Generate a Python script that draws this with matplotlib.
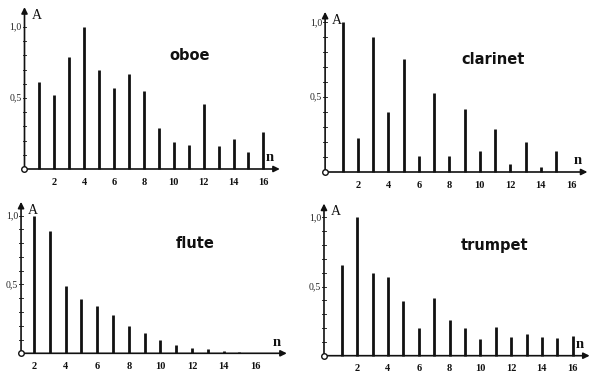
import matplotlib.pyplot as plt

W, H = 602, 377

# ---- data ----
oboe_n = list(range(1, 17))
oboe_a = [0.61, 0.52, 0.79, 1.0, 0.70, 0.57, 0.67, 0.55, 0.29, 0.19, 0.17, 0.46, 0.16, 0.21, 0.12, 0.26]
clar_n = list(range(1, 16))
clar_a = [1.0, 0.23, 0.90, 0.40, 0.755, 0.105, 0.53, 0.105, 0.42, 0.14, 0.29, 0.056, 0.20, 0.033, 0.14]
flute_n = list(range(2, 17))
flute_a = [1.0, 0.89, 0.49, 0.395, 0.34, 0.28, 0.20, 0.15, 0.094, 0.058, 0.036, 0.03, 0.02, 0.008, 0.004]
trump_n = list(range(1, 17))
trump_a = [0.655, 1.0, 0.595, 0.57, 0.395, 0.20, 0.417, 0.26, 0.20, 0.12, 0.21, 0.135, 0.16, 0.135, 0.125, 0.14]

x_ticks = [2, 4, 6, 8, 10, 12, 14, 16]
y_ticks = [0.5, 1.0]
y_tick_labels = ['0,5', '1,0']
titles = ['oboe', 'clarinet', 'flute', 'trumpet']

# panel geometry (pixels): origin x of n=0, baseline y, px per n, px per A,
# n position of y axis, arrow ends, title position (data)
panels = [
    dict(x0=24.5, y0=169.0, sx=14.93, sy=142.0, yax=0.0, xend=17.1, yend=1.14, tpos=(11.05, 0.80)),
    dict(x0=327.4, y0=172.0, sx=15.24, sy=149.7, yax=-0.15, xend=17.06, yend=1.07, tpos=(10.9, 0.75)),
    dict(x0=2.4, y0=353.3, sx=15.8, sy=137.7, yax=1.18, xend=18.0, yend=1.10, tpos=(12.2, 0.80)),
    dict(x0=326.3, y0=355.7, sx=15.4, sy=138.3, yax=-0.15, xend=17.1, yend=1.10, tpos=(10.9, 0.80)),
]
series = [(oboe_n, oboe_a), (clar_n, clar_a), (flute_n, flute_a), (trump_n, trump_a)]

fig = plt.figure(figsize=(W / 100, H / 100), dpi=100)
fig.patch.set_facecolor('white')

serif = 'Liberation Serif'
xmin, xmax, ymin, ymax = -2.0, 19.0, -0.2, 1.25

for p, (ns, amps), title in zip(panels, series, titles):
    left = (p['x0'] + xmin * p['sx']) / W
    bottom = (H - p['y0'] + ymin * p['sy']) / H
    width = (xmax - xmin) * p['sx'] / W
    height = (ymax - ymin) * p['sy'] / H
    ax = fig.add_axes([left, bottom, width, height])
    ax.set_xlim(xmin, xmax)
    ax.set_ylim(ymin, ymax)
    ax.axis('off')
    ax.patch.set_visible(False)

    # bars
    ax.vlines(ns, 0, amps, colors='#111111', linewidth=2.0)

    yax = p['yax']
    # axes arrows
    ax.annotate('', xy=(p['xend'], 0), xytext=(yax, 0),
                arrowprops=dict(arrowstyle='-|>', mutation_scale=9, lw=1.2, color='#111111',
                                shrinkA=0, shrinkB=0))
    ax.annotate('', xy=(yax, p['yend']), xytext=(yax, 0),
                arrowprops=dict(arrowstyle='-|>', mutation_scale=9, lw=1.2, color='#111111',
                                shrinkA=0, shrinkB=0))
    # origin circle
    ax.plot([yax], [0], marker='o', markersize=4, markerfacecolor='white',
            markeredgecolor='#111111', markeredgewidth=1.0, zorder=5)

    # small ticks on y axis every 0.1
    for k in range(1, 11):
        ax.plot([yax - 0.12, yax + 0.12], [k / 10, k / 10], color='#333333', lw=0.7)

    # tick labels
    for t in x_ticks:
        ax.annotate(str(t), xy=(t, 0), xytext=(0, -9.5), textcoords='offset points',
                    ha='center', va='center', fontsize=7.5, fontweight='bold', family=serif,
                    color='#111111')
    for v, lab in zip(y_ticks, y_tick_labels):
        ax.annotate(lab, xy=(yax, v), xytext=(-2, 0), textcoords='offset points',
                    ha='right', va='center', fontsize=7, family=serif, color='#222222')

    # axis names
    ax.annotate('A', xy=(yax, p['yend']), xytext=(5, -6), textcoords='offset points',
                ha='left', va='center', fontsize=10, family=serif, color='#111111')
    ax.annotate('n', xy=(p['xend'], 0), xytext=(-7, 8), textcoords='offset points',
                ha='center', va='center', fontsize=10.5, fontweight='bold', family=serif,
                color='#111111')

    # title
    ax.text(p['tpos'][0], p['tpos'][1], title, ha='center', va='center',
            fontsize=10.5, fontweight='bold', family='DejaVu Sans', color='#111111')

fig.savefig('out.png', dpi=100, facecolor='white')
